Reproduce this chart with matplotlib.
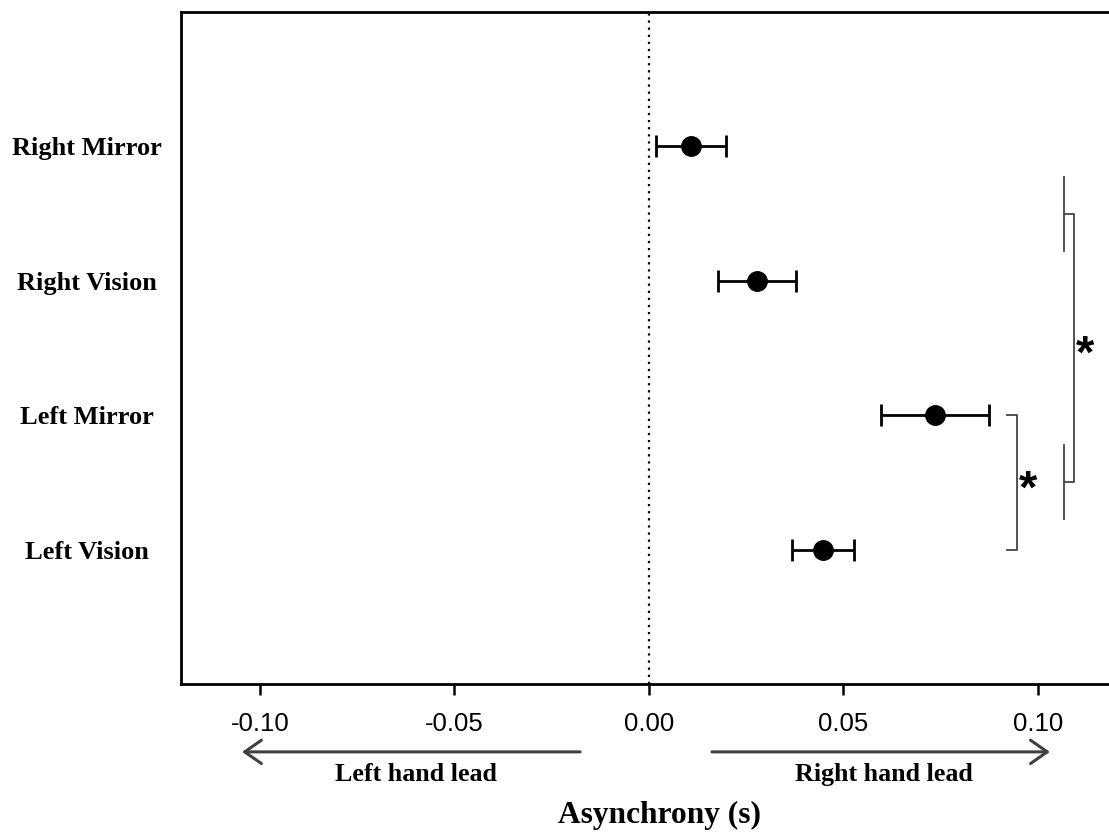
import matplotlib
matplotlib.use("Agg")
import matplotlib.pyplot as plt
import numpy as np

# data
conditions = ['Left Vision', 'Left Mirror', 'Right Vision', 'Right Mirror']
means = [0.0447, 0.0735, 0.0278, 0.0108]
err_lo = [0.0368, 0.0596, 0.0177, 0.0018]
err_hi = [0.0527, 0.0874, 0.0378, 0.0198]
xticks = [-0.10, -0.05, 0.00, 0.05, 0.10]
xticklabels = ['-0.10', '-0.05', '0.00', '0.05', '0.10']

serif = 'Liberation Serif'
sans = 'Liberation Sans'

fig = plt.figure(figsize=(11.09, 8.33), dpi=100)
ax = fig.add_axes([181/1109., 149/833., 928/1109., 672/833.])

ypos = np.arange(1, len(conditions) + 1)
means = np.array(means)
xerr = np.vstack([means - np.array(err_lo), np.array(err_hi) - means])

ax.axvline(0, color='black', linestyle=(0, (1, 2.2)), linewidth=1.6, zorder=1)
ax.errorbar(means, ypos, xerr=xerr, fmt='o', color='black', ms=14,
            elinewidth=2, capsize=8, capthick=2, zorder=3)

ax.set_xlim(-0.1203, 0.1183)
ax.set_ylim(0, 5)
ax.set_xticks(xticks)
ax.set_xticklabels(xticklabels, fontfamily=sans, fontsize=18.5)
ax.set_yticks(ypos)
ax.set_yticklabels(conditions, fontfamily=serif, fontweight='bold', fontsize=19,
                   ha='center')
ax.tick_params(axis='x', direction='out', length=8, width=1.8, pad=12)
ax.tick_params(axis='y', length=0, pad=68)
for s in ['left', 'bottom', 'top']:
    ax.spines[s].set_linewidth(2)
ax.spines['right'].set_visible(False)

# significance brackets
bc = '#444444'
star_dy = 0.06
# Left Mirror vs Left Vision
bx, bw = 0.0946, 0.0026
ax.plot([bx - bw, bx, bx, bx - bw], [ypos[1], ypos[1], ypos[0], ypos[0]],
        color=bc, lw=1.3, clip_on=False)
ax.text(bx + 0.0028, (ypos[0] + ypos[1]) / 2 - star_dy, '*', fontsize=34, fontweight='bold',
        fontfamily=sans, ha='center', va='center')
# Right vs Left
tx, cx, half = 0.1067, 0.1093, 0.275
left_c = (ypos[0] + ypos[1]) / 2
right_c = (ypos[2] + ypos[3]) / 2
ax.plot([tx, tx], [right_c - half, right_c + half], color=bc, lw=1.3, clip_on=False)
ax.plot([tx, tx], [left_c - half, left_c + half], color=bc, lw=1.3, clip_on=False)
ax.plot([tx, cx, cx, tx], [right_c, right_c, left_c, left_c], color=bc, lw=1.3, clip_on=False)
ax.text(cx + 0.0028, (left_c + right_c) / 2 - star_dy, '*', fontsize=34, fontweight='bold',
        fontfamily=sans, ha='center', va='center')

# direction arrows under the axis
trans = ax.get_xaxis_transform()
ac = '#404040'
astyle = '->,head_length=0.6,head_width=0.42'
ax.annotate('', xy=(-0.1046, -0.101), xytext=(-0.0177, -0.101), xycoords=trans,
            textcoords=trans, annotation_clip=False,
            arrowprops=dict(arrowstyle=astyle, color=ac, lw=2.2, mutation_scale=20,
                            shrinkA=0, shrinkB=0))
ax.annotate('', xy=(0.1031, -0.101), xytext=(0.0162, -0.101), xycoords=trans,
            textcoords=trans, annotation_clip=False,
            arrowprops=dict(arrowstyle=astyle, color=ac, lw=2.2, mutation_scale=20,
                            shrinkA=0, shrinkB=0))
ax.text(-0.0599, -0.1354, 'Left hand lead', transform=trans, ha='center', va='center',
        fontfamily=serif, fontweight='bold', fontsize=18.7)
ax.text(0.0604, -0.1354, 'Right hand lead', transform=trans, ha='center', va='center',
        fontfamily=serif, fontweight='bold', fontsize=18.7)
ax.text(0.0026, -0.195, 'Asynchrony (s)', transform=trans, ha='center', va='center',
        fontfamily=serif, fontweight='bold', fontsize=22.7)

fig.savefig('out.png', dpi=100)
